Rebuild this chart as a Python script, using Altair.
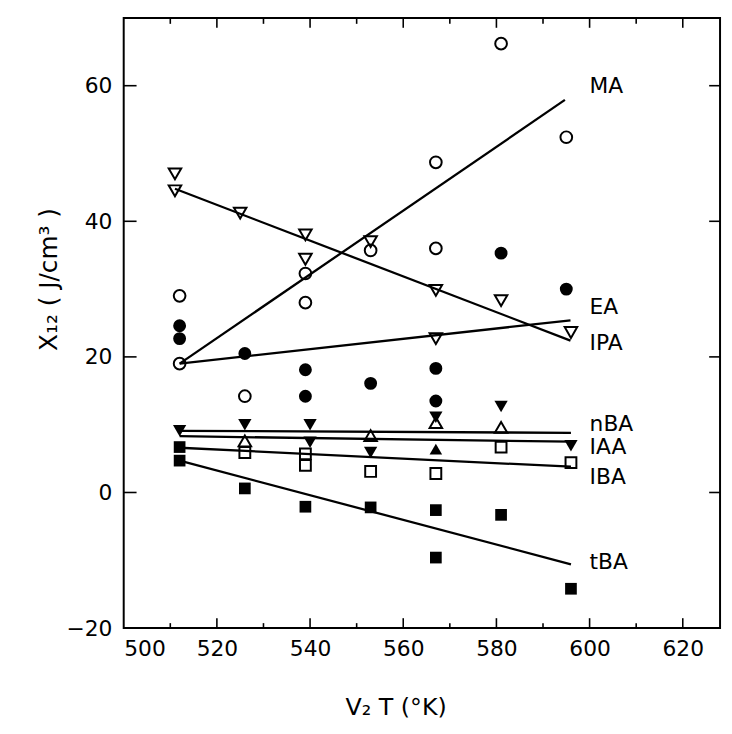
import altair as alt
import pandas as pd

# ---------------- data ----------------
# open circles
oc_x = [512, 512, 526, 539, 539, 553, 567, 567, 581, 595]
oc_y = [29.0, 19.0, 14.2, 32.3, 28.0, 35.7, 48.7, 36.0, 66.2, 52.4]
# filled circles
fc_x = [512, 512, 526, 539, 539, 553, 567, 567, 581, 595]
fc_y = [24.6, 22.7, 20.5, 18.1, 14.2, 16.1, 18.3, 13.5, 35.3, 30.0]
# open triangles (down)
otd_x = [511, 511, 525, 539, 539, 553, 567, 581, 596, 567]
otd_y = [47.0, 44.5, 41.2, 38.0, 34.4, 37.0, 29.8, 28.3, 23.6, 22.7]
# filled triangles (down)
ftd_x = [512, 526, 540, 540, 553, 567, 581, 596]
ftd_y = [9.1, 10.0, 10.0, 7.4, 5.9, 11.1, 12.7, 6.9]
# open triangles (up)
otu_x = [526, 553, 567, 581]
otu_y = [7.6, 8.4, 10.3, 9.6]
# filled triangles (up)
ftu_x = [567]
ftu_y = [6.4]
# open squares
os_x = [526, 539, 539, 553, 567, 581, 596]
os_y = [5.9, 5.7, 4.0, 3.1, 2.8, 6.7, 4.4]
# filled squares
fs_x = [512, 512, 526, 539, 553, 567, 581, 567, 596]
fs_y = [6.7, 4.7, 0.6, -2.1, -2.2, -2.6, -3.3, -9.6, -14.2]

# fitted lines (start / end)
line_names = ["MA", "EA", "IPA", "nBA", "IAA", "IBA", "tBA"]
line_x0 = [512, 511, 512, 512, 512, 512, 512]
line_y0 = [19.0, 44.8, 19.0, 9.1, 8.3, 6.6, 4.7]
line_x1 = [594.7, 595.9, 595.9, 596, 596, 596, 596]
line_y1 = [57.9, 22.4, 25.4, 8.8, 7.5, 3.8, -10.6]

# series labels
label_text = ["MA", "EA", "IPA", "nBA", "IAA", "IBA", "tBA"]
label_x = [600, 600, 600, 600, 600, 600, 600]
label_y = [59.9, 27.4, 22.0, 10.1, 6.7, 2.3, -10.2]

# axis ticks
x_labels = [500, 520, 540, 560, 580, 600, 620]
x_major = [520, 540, 560, 580, 600, 620]
x_minor = [510, 530, 550, 570, 590, 610]
y_labels = [-20, 0, 20, 40, 60]
y_major = [0, 20, 40, 60]

X_DOMAIN = [500, 628]
Y_DOMAIN = [-20, 70]
W, H = 603, 617
FONT = "DejaVu Sans"

xscale = alt.Scale(domain=X_DOMAIN, nice=False, zero=False)
yscale = alt.Scale(domain=Y_DOMAIN, nice=False, zero=False)
xaxis = alt.Axis(values=x_labels, title="V₂  T (°K)", labelPadding=11,
                 titleX=275, titleY=80, titleBaseline="middle", titleFontSize=24)
yaxis = alt.Axis(values=y_labels, title="X₁₂ ( J/cm³ )", labelPadding=12,
                 titleX=-76, titleY=264, titleBaseline="middle", titleFontSize=25)


def X():
    return alt.X("x:Q", scale=xscale, axis=xaxis)


def Y():
    return alt.Y("y:Q", scale=yscale, axis=yaxis)


# ---------------- lines ----------------
rows = []
for n, a, b, c, d in zip(line_names, line_x0, line_y0, line_x1, line_y1):
    rows.append({"series": n, "x": a, "y": b, "o": 0})
    rows.append({"series": n, "x": c, "y": d, "o": 1})
lines_df = pd.DataFrame(rows)

lines = alt.Chart(lines_df).mark_line(color="black", strokeWidth=2.3).encode(
    x=X(), y=Y(), detail="series:N", order="o:Q")


def pts(xv, yv, shape, filled, size):
    df = pd.DataFrame({"x": xv, "y": yv})
    if filled:
        mk = alt.Chart(df).mark_point(shape=shape, filled=True, color="black",
                                      size=size, opacity=1)
    else:
        mk = alt.Chart(df).mark_point(shape=shape, filled=False, color="black",
                                      size=size, strokeWidth=2, opacity=1)
    return mk.encode(x=X(), y=Y())


points = [
    pts(oc_x, oc_y, "circle", False, 140),
    pts(fc_x, fc_y, "circle", True, 170),
    pts(otd_x, otd_y, "triangle-down", False, 160),
    pts(ftd_x, ftd_y, "triangle-down", True, 180),
    pts(otu_x, otu_y, "triangle-up", False, 160),
    pts(ftu_x, ftu_y, "triangle-up", True, 160),
    pts(os_x, os_y, "square", False, 120),
    pts(fs_x, fs_y, "square", True, 140),
]

labels = alt.Chart(pd.DataFrame({"t": label_text, "x": label_x, "y": label_y})).mark_text(
    align="left", baseline="middle", font=FONT, fontSize=22, color="black"
).encode(x=X(), y=Y(), text="t:N")


# ---------------- inward frame ticks ----------------
def xticks(vals, y0, y1):
    return alt.Chart(pd.DataFrame({"x": vals})).mark_rule(color="black", strokeWidth=1.6).encode(
        x=X(), y=alt.value(y0), y2=alt.value(y1))


def yticks(vals, x0, x1):
    return alt.Chart(pd.DataFrame({"y": vals})).mark_rule(color="black", strokeWidth=1.6).encode(
        y=Y(), x=alt.value(x0), x2=alt.value(x1))


ticks = [
    xticks(x_major, H, H - 10),
    xticks(x_minor, H, H - 5),
    xticks(x_major, 0, 10),
    xticks(x_minor, 0, 6),
    yticks(y_major, 0, 13),
    yticks(y_major, W, W - 11),
]

chart = alt.layer(lines, *points, labels, *ticks).properties(
    width=W, height=H,
    background="white",
    autosize=alt.AutoSizeParams(type="none"),
    padding={"left": 117, "top": 6, "right": 4, "bottom": 95},
).configure_view(
    stroke="black", strokeWidth=2, fill="white"
).configure_axis(
    domain=False, ticks=False, tickSize=0, grid=False,
    labelFont=FONT, labelFontSize=22, labelColor="black",
    titleFont=FONT, titleFontSize=22, titleColor="black", titleFontWeight="normal",
)

chart.save("out.html", embed_options={"renderer": "svg", "actions": False})
